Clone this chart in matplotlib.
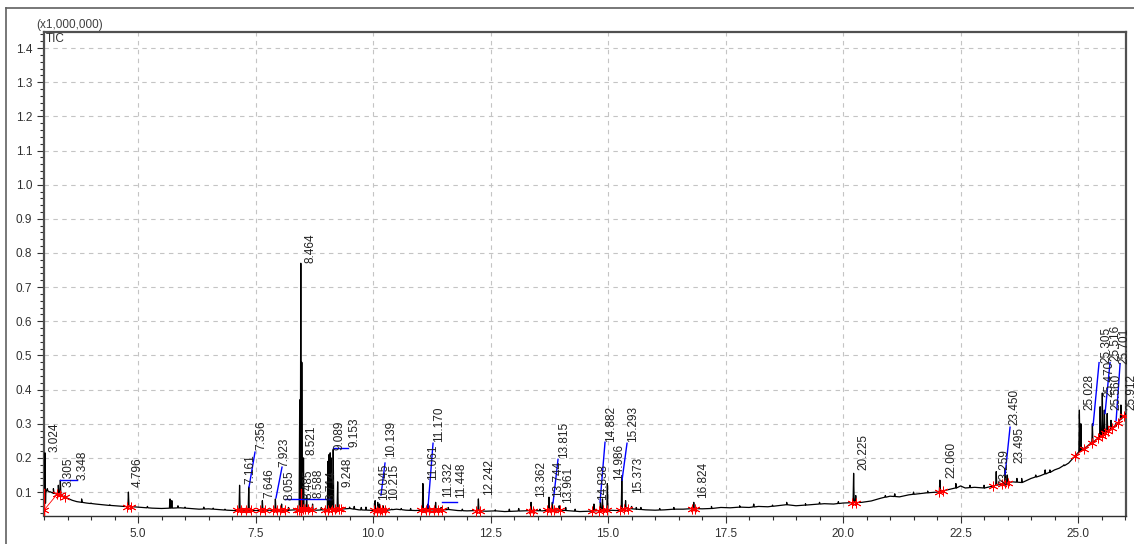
"""
GC-MS total ion chromatogram (TIC), intensity in units of 1,000,000
"""

import matplotlib
matplotlib.use('Agg')
import matplotlib.pyplot as plt
from matplotlib.ticker import MultipleLocator, FormatStrFormatter
from matplotlib.lines import Line2D
import numpy as np

# baseline of the trace (retention time [min], intensity [x1e6])
base_t = [3.00, 3.04, 3.10, 3.20, 3.30, 3.40, 3.50, 3.60, 3.70, 3.80, 3.90,
          4.10, 4.30, 4.50, 4.70, 4.90, 5.10, 5.30, 5.50, 5.90, 6.10, 6.30,
          6.50, 6.70, 6.90, 7.05, 7.30, 7.50, 7.80, 8.00, 8.20, 8.35, 8.60,
          8.80, 8.95, 9.30, 9.50, 9.70, 9.90, 10.10, 10.30, 10.50, 10.70,
          10.90, 11.20, 11.40, 11.60, 11.80, 12.00, 12.20, 12.40, 12.60,
          12.80, 13.00, 13.20, 13.40, 13.60, 13.80, 14.00, 14.20, 14.40,
          14.60, 14.80, 15.00, 15.20, 15.40, 15.60, 15.80, 16.00, 16.20,
          16.40, 16.60, 16.80, 17.00, 17.20, 17.40, 17.60, 17.80, 18.00,
          18.20, 18.40, 18.60, 18.80, 19.00, 19.20, 19.40, 19.60, 19.80,
          20.00, 20.40, 20.60, 20.80, 21.00, 21.20, 21.40, 21.60, 21.80,
          22.00, 22.20, 22.40, 22.50, 22.60, 22.80, 23.00, 23.20, 23.40,
          23.60, 23.80, 24.00, 24.20, 24.40, 24.50, 24.60, 24.80, 24.90,
          25.00, 25.20, 25.40, 25.60, 25.80, 25.95, 26.02]
base_v = [0.030, 0.105, 0.102, 0.097, 0.093, 0.088, 0.082, 0.076, 0.072, 0.070, 0.068,
          0.065, 0.062, 0.060, 0.058, 0.057, 0.055, 0.053, 0.052, 0.054, 0.052, 0.050,
          0.051, 0.049, 0.047, 0.046, 0.047, 0.046, 0.047, 0.046, 0.047, 0.048, 0.050,
          0.047, 0.048, 0.050, 0.052, 0.048, 0.047, 0.046, 0.047, 0.050, 0.047,
          0.046, 0.048, 0.047, 0.049, 0.046, 0.045, 0.046, 0.044, 0.045,
          0.043, 0.044, 0.045, 0.046, 0.045, 0.048, 0.047, 0.045, 0.043,
          0.044, 0.046, 0.047, 0.046, 0.052, 0.050, 0.048, 0.047, 0.048,
          0.050, 0.050, 0.052, 0.051, 0.052, 0.055, 0.054, 0.056, 0.055,
          0.058, 0.057, 0.060, 0.063, 0.060, 0.062, 0.064, 0.066, 0.065,
          0.068, 0.070, 0.074, 0.082, 0.088, 0.086, 0.092, 0.095, 0.098,
          0.100, 0.106, 0.112, 0.118, 0.112, 0.114, 0.112, 0.118, 0.125,
          0.130, 0.128, 0.140, 0.148, 0.158, 0.165, 0.170, 0.185, 0.200,
          0.215, 0.235, 0.255, 0.275, 0.295, 0.320, 0.330]

# peak apexes (labelled peaks plus the small unlabelled bumps of the trace)
peak_rt = [3.02, 3.07, 3.12, 3.20, 3.305, 3.348, 3.45, 3.80, 4.00, 4.40, 4.796,
           5.20, 5.68, 5.72, 5.85, 6.00, 6.40, 6.60, 6.85, 7.161, 7.356, 7.646,
           7.923, 8.055, 8.20, 8.44, 8.464, 8.485, 8.521, 8.588, 8.714, 8.90,
           9.04, 9.065, 9.089, 9.11, 9.153, 9.248, 9.50, 9.60, 9.75, 9.85,
           10.045, 10.10, 10.139, 10.215, 10.40, 10.60, 10.80, 11.061, 11.170,
           11.332, 11.448, 11.60, 11.90, 12.242, 12.60, 12.90, 13.10, 13.362,
           13.55, 13.744, 13.815, 13.961, 14.10, 14.30, 14.70, 14.838, 14.882,
           14.986, 15.293, 15.373, 15.50, 15.60, 15.70, 16.10, 16.40, 16.824,
           17.20, 17.80, 18.10, 18.50, 18.80, 19.20, 19.50, 19.90, 20.225,
           20.27, 20.90, 21.10, 21.50, 21.80, 22.060, 22.40, 22.70, 23.00,
           23.259, 23.450, 23.495, 23.70, 23.80, 24.10, 24.30, 24.40, 24.70,
           25.028, 25.06, 25.10, 25.305, 25.470, 25.516, 25.560, 25.62,
           25.701, 25.80, 25.912]
peak_top = [0.215, 0.110, 0.100, 0.110, 0.120, 0.135, 0.090, 0.080, 0.068, 0.063, 0.100,
            0.058, 0.080, 0.075, 0.060, 0.056, 0.056, 0.053, 0.050, 0.120, 0.115, 0.075,
            0.080, 0.065, 0.055, 0.370, 0.770, 0.480, 0.200, 0.090, 0.065, 0.055,
            0.190, 0.210, 0.215, 0.200, 0.225, 0.130, 0.056, 0.058, 0.055, 0.056,
            0.075, 0.070, 0.065, 0.060, 0.050, 0.052, 0.052, 0.125, 0.065,
            0.070, 0.055, 0.055, 0.050, 0.080, 0.048, 0.050, 0.052, 0.070,
            0.050, 0.085, 0.070, 0.060, 0.055, 0.050, 0.065, 0.070, 0.080,
            0.125, 0.140, 0.075, 0.058, 0.055, 0.055, 0.052, 0.055, 0.070,
            0.058, 0.060, 0.065, 0.062, 0.070, 0.066, 0.070, 0.072, 0.155,
            0.090, 0.090, 0.095, 0.100, 0.103, 0.135, 0.125, 0.120, 0.120,
            0.160, 0.170, 0.150, 0.140, 0.140, 0.150, 0.165, 0.165, 0.180,
            0.340, 0.300, 0.230, 0.300, 0.350, 0.390, 0.340, 0.330,
            0.310, 0.300, 0.355]

# peak labels: text, and lower-left corner of the rotated label
label_txt = ['3.024', '3.305', '3.348', '4.796', '7.161', '7.356', '7.646', '7.923',
             '8.055', '8.464', '8.485', '8.521', '8.588', '8.714', '9.089', '9.153',
             '9.248', '10.045', '10.139', '10.215', '11.061', '11.170', '11.332',
             '11.448', '12.242', '13.362', '13.744', '13.815', '13.961', '14.838',
             '14.882', '14.986', '15.293', '15.373', '16.824', '20.225', '22.060',
             '23.259', '23.450', '23.495', '25.028', '25.305', '25.470', '25.516',
             '25.560', '25.701', '25.912']
label_x = [3.106, 3.404, 3.702, 4.872, 7.255, 7.489, 7.660, 7.979,
           8.085, 8.532, 8.510, 8.574, 8.720, 8.979, 9.149, 9.468,
           9.340, 10.106, 10.255, 10.319, 11.149, 11.277, 11.468,
           11.745, 12.340, 13.447, 13.809, 13.936, 14.021, 14.766,
           14.936, 15.106, 15.404, 15.511, 16.894, 20.298, 22.170,
           23.298, 23.511, 23.617, 25.106, 25.470, 25.532, 25.660,
           25.680, 25.850, 26.000]
label_y = [0.217, 0.115, 0.135, 0.115, 0.123, 0.222, 0.083, 0.173,
           0.077, 0.770, 0.080, 0.208, 0.083, 0.077, 0.222, 0.231,
           0.115, 0.077, 0.202, 0.077, 0.135, 0.246, 0.085,
           0.083, 0.091, 0.085, 0.085, 0.199, 0.068, 0.077,
           0.246, 0.135, 0.246, 0.097, 0.083, 0.164, 0.141,
           0.120, 0.295, 0.185, 0.339, 0.479, 0.377, 0.485,
           0.339, 0.476, 0.339]

# blue leader lines (t0, v0, t1, v1)
leaders = [(3.34, 0.135, 3.702, 0.135), (7.362, 0.115, 7.489, 0.217),
           (7.936, 0.083, 8.064, 0.173), (8.128, 0.080, 9.085, 0.080),
           (9.149, 0.228, 9.468, 0.228), (10.17, 0.091, 10.255, 0.185),
           (11.17, 0.056, 11.277, 0.243), (11.468, 0.071, 11.787, 0.071),
           (13.83, 0.068, 13.936, 0.196), (14.83, 0.071, 14.936, 0.246),
           (15.298, 0.135, 15.404, 0.243), (23.447, 0.150, 23.553, 0.290),
           (25.32, 0.295, 25.447, 0.479), (25.574, 0.330, 25.68, 0.479),
           (25.81, 0.310, 25.894, 0.476)]

# integration start/end marks, grouped
integ_groups = [[3.01, 3.28, 3.35, 3.45], [4.77, 4.86], [7.10, 7.20, 7.30, 7.40],
                [7.60, 7.70], [7.88, 7.95, 8.03, 8.12],
                [8.38, 8.43, 8.50, 8.55, 8.62, 8.70],
                [8.98, 9.05, 9.12, 9.20, 9.28, 9.32],
                [10.02, 10.08, 10.14, 10.20, 10.26], [11.02, 11.12, 11.20],
                [11.30, 11.38, 11.47], [12.20, 12.28], [13.33, 13.40],
                [13.70, 13.78, 13.85, 13.98], [14.66, 14.80, 14.90, 14.97],
                [15.25, 15.33, 15.42], [16.78, 16.86], [20.19, 20.28],
                [22.04, 22.12], [23.19, 23.38, 23.45, 23.52],
                [24.93, 25.12, 25.30, 25.42, 25.50, 25.57, 25.64, 25.72, 25.85, 25.97]]
integ_vlines = [3.005, 8.464]

plt.rcParams['font.family'] = ['Liberation Sans', 'DejaVu Sans']

# trace = baseline with narrow peaks inserted
HW = 0.012
tt = list(base_t)
vv = list(base_v)
for rt, top in zip(peak_rt, peak_top):
    b = float(np.interp(rt, base_t, base_v))
    tt += [rt - HW, rt, rt + HW]
    vv += [b, top, b]
order = np.argsort(tt, kind='stable')
tt = np.array(tt)[order]
vv = np.array(vv)[order]

fig = plt.figure(figsize=(11.34, 5.44), dpi=100)
ax = fig.add_axes([44/1134, 28/544, 1082/1134, 484/544])

ax.plot(tt, vv, color='black', lw=0.9, zorder=3)

for g in integ_groups:
    gy = np.interp(g, base_t, base_v)
    ax.plot(g, gy, color='red', lw=0.6, marker=(6, 2, 0), markersize=7,
            markeredgewidth=0.6, zorder=4)
for t in integ_vlines:
    ax.plot([t, t], [0.03, 0.11], color='red', lw=1, zorder=4)

for t0, v0, t1, v1 in leaders:
    ax.plot([t0, t1], [v0, v1], color='#0000ff', lw=1, zorder=4)

for s, x, y in zip(label_txt, label_x, label_y):
    ax.text(x, y, s, rotation=90, ha='left', va='bottom', fontsize=8.5,
            color='#202020', zorder=5, clip_on=False)

ax.set_xlim(3.0, 26.02)
ax.set_ylim(0.03, 1.447)
ax.xaxis.set_major_locator(MultipleLocator(2.5))
ax.xaxis.set_minor_locator(MultipleLocator(0.5))
ax.yaxis.set_major_locator(MultipleLocator(0.1))
ax.yaxis.set_minor_locator(MultipleLocator(0.02))
ax.xaxis.set_major_formatter(FormatStrFormatter('%.1f'))
ax.yaxis.set_major_formatter(FormatStrFormatter('%.1f'))
ax.set_xticks([5.0, 7.5, 10.0, 12.5, 15.0, 17.5, 20.0, 22.5, 25.0])
ax.tick_params(which='both', direction='out', colors='#303030', labelsize=8.5)
ax.tick_params(which='major', length=5, width=0.8)
ax.tick_params(which='minor', length=3, width=0.8)
ax.grid(which='major', color='#c4c4c4', ls=(0, (4, 4)), lw=0.8)
for sp in ax.spines.values():
    sp.set_color('#505050')
    sp.set_linewidth(1.6)
ax.spines['bottom'].set_color('#303030')
ax.spines['bottom'].set_linewidth(1.0)

fig.text(36/1134, 1 - 28/544, '(x1,000,000)', fontsize=8.5, color='#404040',
         ha='left', va='baseline')
ax.text(0.002, 0.998, 'TIC', transform=ax.transAxes, fontsize=8.5,
        color='#303030', ha='left', va='top')

# outer frame
fig.add_artist(Line2D([6/1134, 1], [1 - 8/544, 1 - 8/544], color='#606060', lw=1.2))
fig.add_artist(Line2D([6/1134, 6/1134], [0, 1 - 8/544], color='#606060', lw=1.2))

fig.savefig('out.png', dpi=100)
